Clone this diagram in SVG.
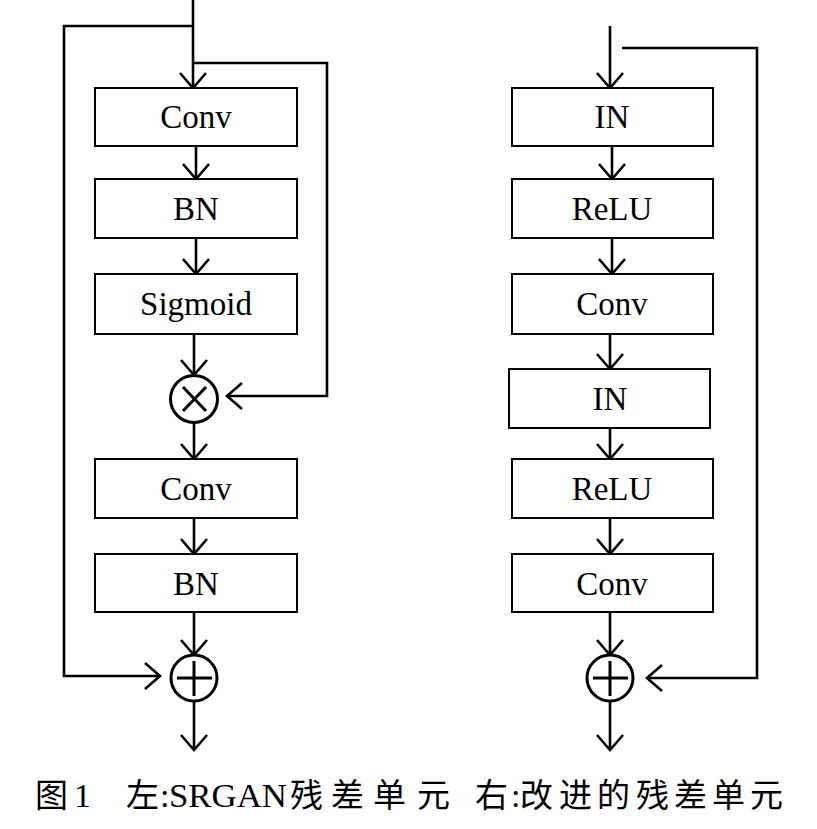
<svg xmlns="http://www.w3.org/2000/svg" width="817" height="829" viewBox="0 0 817 829">
<style>
.box{fill:#fff;stroke:#000;stroke-width:2}
.lbl{font-family:'Liberation Serif','Times New Roman','DejaVu Serif',serif;font-size:33px;fill:#000;text-anchor:middle}
.ln{fill:none;stroke:#000;stroke-width:2.6}
.op{fill:#fff;stroke:#000;stroke-width:3}
.cap{font-family:'Liberation Serif','DejaVu Serif','Noto Sans CJK SC',serif;font-size:34px;fill:#000}
.cj{font-family:'Noto Sans CJK SC',sans-serif;font-size:33px}
</style>
<defs>
<marker id="ah" markerUnits="userSpaceOnUse" markerWidth="40" markerHeight="40" refX="0" refY="0" orient="auto" overflow="visible">
<path d="M-15,-13 L0,0 L-15,13" fill="none" stroke="#000" stroke-width="2.6"/>
</marker>
</defs>
<rect width="817" height="829" fill="#fff"/>
<g id="connectors">
<path class="ln" d="M193,0 V88" marker-end="url(#ah)"/>
<path class="ln" d="M193,26 H64 V676 H160" marker-end="url(#ah)"/>
<path class="ln" d="M193,63 H327 V396 H227" marker-end="url(#ah)"/>
<path class="ln" d="M196,146 V179" marker-end="url(#ah)"/>
<path class="ln" d="M196,238 V274" marker-end="url(#ah)"/>
<path class="ln" d="M194,334 V375" marker-end="url(#ah)"/>
<path class="ln" d="M194,423 V459" marker-end="url(#ah)"/>
<path class="ln" d="M194,518 V554" marker-end="url(#ah)"/>
<path class="ln" d="M194,612 V655" marker-end="url(#ah)"/>
<path class="ln" d="M194,701 V750" marker-end="url(#ah)"/>
<path class="ln" d="M610,26 V88" marker-end="url(#ah)"/>
<path class="ln" d="M622,48 H757 V678 H647" marker-end="url(#ah)"/>
<path class="ln" d="M612,146 V179" marker-end="url(#ah)"/>
<path class="ln" d="M612,238 V274" marker-end="url(#ah)"/>
<path class="ln" d="M610,334 V369" marker-end="url(#ah)"/>
<path class="ln" d="M610,428 V459" marker-end="url(#ah)"/>
<path class="ln" d="M610,518 V554" marker-end="url(#ah)"/>
<path class="ln" d="M610,612 V655" marker-end="url(#ah)"/>
<path class="ln" d="M610,701 V750" marker-end="url(#ah)"/>
</g>
<g id="l-conv1"><rect class="box" x="95" y="88" width="202" height="58"/><text class="lbl" x="196" y="128">Conv</text></g>
<g id="l-bn1"><rect class="box" x="95" y="179" width="202" height="59"/><text class="lbl" x="196" y="220">BN</text></g>
<g id="l-sigmoid"><rect class="box" x="95" y="274" width="202" height="60"/><text class="lbl" x="196" y="315">Sigmoid</text></g>
<g id="l-mul"><circle class="op" cx="194" cy="399" r="23.5"/><path d="M183,387 L206,411 M206,387 L183,411" stroke="#000" stroke-width="3"/></g>
<g id="l-conv2"><rect class="box" x="95" y="459" width="202" height="59"/><text class="lbl" x="196" y="500">Conv</text></g>
<g id="l-bn2"><rect class="box" x="95" y="554" width="202" height="58"/><text class="lbl" x="196" y="595">BN</text></g>
<g id="l-add"><circle class="op" cx="194" cy="678" r="23"/><path d="M177,678 H212 M194,661 V696" stroke="#000" stroke-width="3"/></g>
<g id="r-in1"><rect class="box" x="512" y="88" width="201" height="58"/><text class="lbl" x="612" y="128">IN</text></g>
<g id="r-relu1"><rect class="box" x="512" y="179" width="201" height="59"/><text class="lbl" x="612" y="220">ReLU</text></g>
<g id="r-conv1"><rect class="box" x="512" y="274" width="201" height="60"/><text class="lbl" x="612" y="315">Conv</text></g>
<g id="r-in2"><rect class="box" x="509" y="369" width="201" height="59"/><text class="lbl" x="610" y="410">IN</text></g>
<g id="r-relu2"><rect class="box" x="512" y="459" width="201" height="59"/><text class="lbl" x="612" y="500">ReLU</text></g>
<g id="r-conv2"><rect class="box" x="512" y="554" width="201" height="58"/><text class="lbl" x="612" y="595">Conv</text></g>
<g id="r-add"><circle class="op" cx="610" cy="678" r="23"/><path d="M593,678 H628 M610,661 V696" stroke="#000" stroke-width="3"/></g>
<g id="caption">
<text class="cap" y="807"><tspan class="cj" x="35">图</tspan><tspan x="74">1</tspan><tspan class="cj" x="126">左</tspan><tspan x="160">:</tspan><tspan x="169" textLength="118" lengthAdjust="spacingAndGlyphs">SRGAN</tspan><tspan class="cj" x="290">残</tspan><tspan class="cj" x="331">差</tspan><tspan class="cj" x="373">单</tspan><tspan class="cj" x="417">元</tspan><tspan class="cj" x="475">右</tspan><tspan x="511">:</tspan><tspan class="cj" x="520">改</tspan><tspan class="cj" x="559">进</tspan><tspan class="cj" x="597">的</tspan><tspan class="cj" x="636">残</tspan><tspan class="cj" x="674">差</tspan><tspan class="cj" x="712">单</tspan><tspan class="cj" x="750">元</tspan></text>
</g>
</svg>
